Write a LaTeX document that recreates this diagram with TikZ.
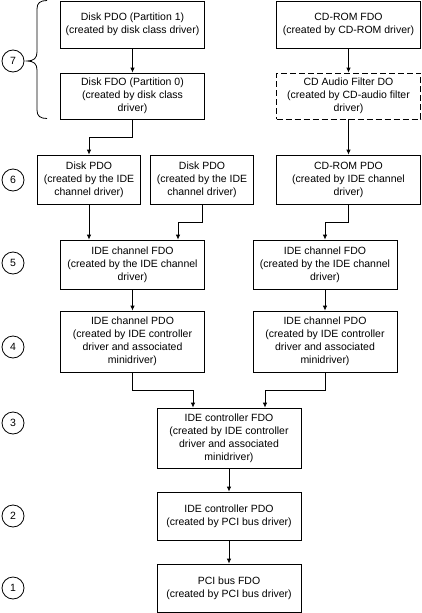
\documentclass[tikz,border=0pt]{standalone}
\usepackage{fontspec}
\setmainfont{Liberation Sans}
\usetikzlibrary{arrows.meta,calc}
\tikzset{%
  devobj/.style = {shape=rectangle, draw, align=center,%
                   minimum width=144pt, inner sep=0pt},%
  narrow/.style = {devobj, minimum width=103pt},%
  filter/.style = {devobj, dash pattern=on 6pt off 3pt},%
  layer/.style  = {circle, draw, inner sep=0pt, minimum size=22pt}%
}

\begin{document}
\begin{tikzpicture}
[x=1pt,y=-1pt,line width=0.8pt,every node/.style={font=\fontsize{10.5}{13}\selectfont},link/.style={-{Latex[length=5pt,width=4.5pt]}}]
\useasboundingbox (0,0) rectangle (422,613);
	\node (pone) at (132.5,24.5) [devobj,minimum height=47pt] {Disk PDO (Partition 1)\\(created by disk class driver)};
	\node (fzero) at (132.5,96) [devobj,minimum height=46pt] {Disk FDO (Partition 0)\\(created by disk class\\driver)};
	\node (cdfdo) at (348.5,24.5) [devobj,minimum height=47pt] {CD-ROM FDO\\(created by CD-ROM driver)};
	\node (cdflt) at (348.5,96) [filter,minimum height=46pt] {CD Audio Filter DO\\(created by CD-audio filter\\driver)};
	\node (pdoA) at (89,179.5) [narrow,minimum height=49pt] {Disk PDO\\(created by the IDE\\channel driver)};
	\node (pdoB) at (202,179.5) [narrow,minimum height=49pt] {Disk PDO\\(created by the IDE\\channel driver)};
	\node (pdoC) at (348.5,179.5) [devobj,minimum height=49pt] {CD-ROM PDO\\(created by IDE channel\\driver)};
	\node (chfL) at (132.5,264.5) [devobj,minimum height=49pt] {IDE channel FDO\\(created by the IDE channel\\driver)};
	\node (chfR) at (325,264.5) [devobj,minimum height=49pt] {IDE channel FDO\\(created by the IDE channel\\driver)};
	\node (chpL) at (132.5,341.5) [devobj,minimum height=61pt] {IDE channel PDO\\(created by IDE controller\\driver and associated\\minidriver)};
	\node (chpR) at (325,341.5) [devobj,minimum height=61pt] {IDE channel PDO\\(created by IDE controller\\driver and associated\\minidriver)};
	\node (ctlfdo) at (229,438) [devobj,minimum height=60pt] {IDE controller FDO\\(created by IDE controller\\driver and associated\\minidriver)};
	\node (ctlpdo) at (229,516) [devobj,minimum height=48pt] {IDE controller PDO\\(created by PCI bus driver)};
	\node (pcifdo) at (229,588) [devobj,minimum height=48pt] {PCI bus FDO\\(created by PCI bus driver)};
	\node (Lseven) at (13,61) [layer] {7};
	\node (Lsix) at (13,180) [layer] {6};
	\node (Lfive) at (13,263) [layer] {5};
	\node (Lfour) at (13,347) [layer] {4};
	\node (Lthree) at (13,423) [layer] {3};
	\node (Ltwo) at (13,516) [layer] {2};
	\node (Lone) at (13,588) [layer] {1};
	\draw (47,0.5) .. controls (40,0.5) and (37,3) .. (37,9) -- (37,52)
		.. controls (37,58) and (34,61) .. (27,61) .. controls (34,61) and (37,64) .. (37,70)
		-- (37,110) .. controls (37,116) and (40,118.5) .. (47,118.5);
	\draw [link] (pone) -- (fzero);
	\draw [link] (cdfdo) -- (cdflt);
	\draw [link] (cdflt) -- (pdoC);
	\draw [link] (fzero.south) -- ++(0,18) -| (pdoA.north);
	\draw [link] (pdoA.south) -- (pdoA.south |- chfL.north);
	\draw [link] (pdoB.south) -- ++(0,18) -| ([xshift=45.5pt]chfL.north);
	\draw [link] (pdoC.south) -- ++(0,18) -| (chfR.north);
	\draw [link] (chfL) -- (chpL);
	\draw [link] (chfR) -- (chpR);
	\draw [link] (chpL.south) -- ++(0,18) -| ([xshift=-36pt]ctlfdo.north);
	\draw [link] (chpR.south) -- ++(0,18) -| ([xshift=36pt]ctlfdo.north);
	\draw [link] (ctlfdo) -- (ctlpdo);
	\draw [link] (ctlpdo) -- (pcifdo);
\end{tikzpicture}
\end{document}
